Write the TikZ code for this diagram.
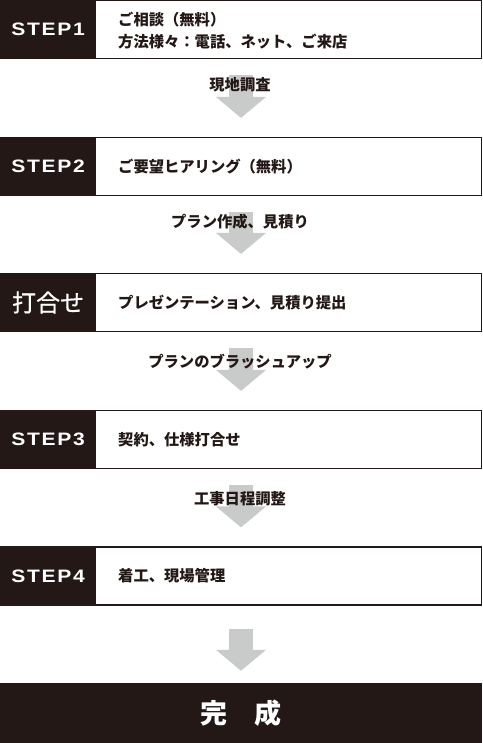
\documentclass[tikz,border=0pt]{standalone}
\usepackage{fontspec}
\usepackage{graphicx}
\setmainfont{Liberation Sans}
\newfontfamily\jp{Noto Sans CJK JP}
\usetikzlibrary{arrows.meta}
\definecolor{ink}{HTML}{231815}
\definecolor{agray}{HTML}{C9CACA}
\newcommand{\steplabel}[1]{\scalebox{1.17}[1]{\bfseries\addfontfeature{LetterSpace=8}#1}}
\begin{document}
\begin{tikzpicture}[x=1pt,y=-1pt,
  stepbox/.style={draw=ink,line width=1.2pt,fill=white,minimum width=481pt,minimum height=58pt,inner sep=0pt},
  tag/.style={fill=ink,minimum width=96pt,minimum height=58.6pt,inner sep=0pt,text=white,anchor=west},
  stepfont/.style={font=\fontsize{18}{18}\selectfont},
  steptxt/.style={text=ink,font=\jp\bfseries\fontsize{15.3}{22}\selectfont,anchor=west,align=left,inner sep=0pt},
  flowtxt/.style={text=ink,font=\jp\bfseries\fontsize{15.3}{18}\selectfont,inner sep=0pt},
  bigarrow/.style={draw=agray,line width=24pt,-{Triangle[width=49pt,length=21pt,fill=agray]}},
]
\useasboundingbox (0,0) rectangle (482,743);

% boxes
\node[stepbox] (b1) at (241,29.5) {};
\node[stepbox] (b2) at (241,166.5) {};
\node[stepbox] (b3) at (241,302.5) {};
\node[stepbox] (b4) at (241,439.5) {};
\node[stepbox] (b5) at (241,576) {};
\node[fill=ink,minimum width=482pt,minimum height=60pt,inner sep=0pt] (fin) at (241,713) {};

% dark tags
\node[tag,stepfont] (t1) at (b1.west) {\steplabel{STEP1}};
\node[tag,stepfont] (t2) at (b2.west) {\steplabel{STEP2}};
\node[tag,font=\jp\fontsize{24}{24}\selectfont] (t3) at (b3.west) {\addfontfeature{FakeBold=0.6}打合せ};
\node[tag,stepfont] (t4) at (b4.west) {\steplabel{STEP3}};
\node[tag,stepfont] (t5) at (b5.west) {\steplabel{STEP4}};

% box texts
\node[steptxt] (x1) at (118,31) {ご相談（無料）\\方法様々：電話、ネット、ご来店};
\node[steptxt] (x2) at (118,166.5) {ご要望ヒアリング（無料）};
\node[steptxt] (x3) at (118,302.5) {プレゼンテーション、見積り提出};
\node[steptxt] (x4) at (118,439.5) {契約、仕様打合せ};
\node[steptxt] (x5) at (118,576) {着工、現場管理};

% arrows
\draw[bigarrow,shorten <=16pt,shorten >=19pt] (b1.south) -- (b2.north);
\draw[bigarrow,shorten <=16pt,shorten >=19pt] (b2.south) -- (b3.north);
\draw[bigarrow,shorten <=16pt,shorten >=19pt] (b3.south) -- (b4.north);
\draw[bigarrow,shorten <=16pt,shorten >=19pt] (b4.south) -- (b5.north);
\draw[bigarrow,shorten <=23pt,shorten >=12pt] (b5.south) -- (fin.north);

% arrow labels
\node[flowtxt] (l1) at (240,85) {現地調査};
\node[flowtxt] (l2) at (240,222) {プラン作成、見積り};
\node[flowtxt] (l3) at (240,361.5) {プランのブラッシュアップ};
\node[flowtxt] (l4) at (240,499) {工事日程調整};

% final text
\node[text=white,font=\jp\bfseries\fontsize{27}{27}\selectfont,inner sep=0pt] (ft) at (fin.center) {完　成};
\end{tikzpicture}
\end{document}
